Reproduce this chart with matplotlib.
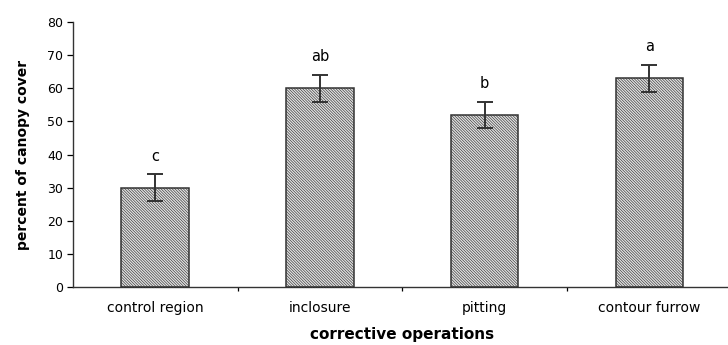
import numpy as np
import matplotlib
matplotlib.use("Agg")
import matplotlib.pyplot as plt

plt.rcParams["font.family"] = ["DejaVu Sans"]
plt.rcParams["hatch.color"] = "#7a7a7a"
plt.rcParams["hatch.linewidth"] = 0.45

categories = ["control region", "inclosure", "pitting", "contour furrow"]
values = [30, 60, 52, 63]
errors = [4, 4, 4, 4]
letters = ["c", "ab", "b", "a"]

fig = plt.figure(figsize=(7.28, 3.45), dpi=100)
ax = fig.add_axes([0.100, 0.168, 0.905, 0.768])

x = np.arange(len(categories))
ax.bar(x, values, width=0.41, color="#e2e2e2", edgecolor="#333333",
       linewidth=1.1, hatch="\\" * 12)
ax.errorbar(x, values, yerr=errors, fmt="none", ecolor="#333333",
            elinewidth=1.4, capsize=5.5, capthick=1.4)
for xi, v, e, lab in zip(x, values, errors, letters):
    ax.text(xi, v + e + 5.5, lab, ha="center", va="center", fontsize=10.5)

ax.set_xlim(-0.5, 3.5)
ax.set_ylim(0, 80)
ax.set_yticks(range(0, 81, 10))
ax.set_xticks(x)
ax.set_xticklabels(categories, fontsize=10)
ax.set_xticks(x[:-1] + 0.5, minor=True)
ax.tick_params(axis="x", which="major", length=0, pad=10)
ax.tick_params(axis="x", which="minor", length=3, direction="out", width=0.9)
ax.tick_params(axis="y", labelsize=9, length=4, width=0.9, pad=3)
for s in ["top", "right"]:
    ax.spines[s].set_visible(False)
for s in ["left", "bottom"]:
    ax.spines[s].set_linewidth(1.0)
    ax.spines[s].set_color("#333333")

ax.set_xlabel("corrective operations", fontsize=11, fontweight="bold", labelpad=9)
ax.set_ylabel("percent of canopy cover", fontsize=10, fontweight="bold", labelpad=12)

fig.savefig("out.png", dpi=100)
